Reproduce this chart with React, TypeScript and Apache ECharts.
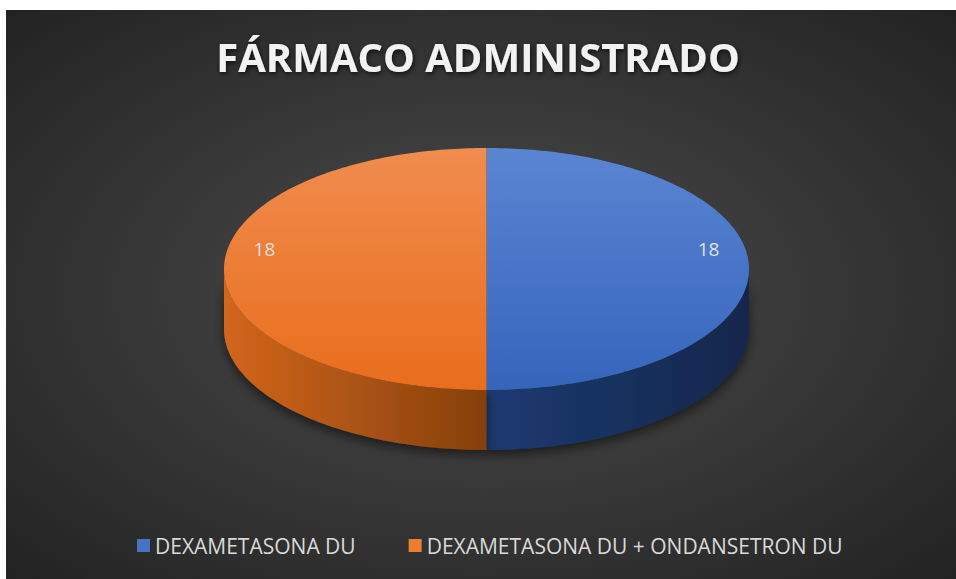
import React, { useEffect, useRef } from 'react';
import * as echarts from 'echarts';

const titleText = 'FÁRMACO ADMINISTRADO';
const categories = ['DEXAMETASONA DU', 'DEXAMETASONA DU + ONDANSETRON DU'];
const values = [18, 18];
const colors = ['#4472C4', '#ED7D31'];
const topColors = [['#5a85d3', '#3564bb'], ['#f08c4e', '#e96d1c']];
const sideColors = [['#1c3a70', '#13274c'], ['#d2661b', '#85400d']];

const CX = 486.5, CY = 269, RX = 262.5, RY = 121, DEPTH = 60;

export default function App() {
  const ref = useRef<HTMLDivElement>(null);
  useEffect(() => {
    const chart = echarts.init(ref.current!, null, { renderer: 'svg' });
    const total = values.reduce((a, b) => a + b, 0);
    const starts: number[] = [];
    let acc = 0;
    values.forEach((v) => { starts.push(acc); acc += v; });

    const pt = (deg: number, dy = 0) => {
      const r = (deg * Math.PI) / 180;
      return [CX + RX * Math.cos(r), CY + RY * Math.sin(r) + dy];
    };
    const arc = (d0: number, d1: number, dy = 0) => {
      const pts: number[][] = [];
      const n = Math.max(2, Math.ceil((d1 - d0) / 1));
      for (let i = 0; i <= n; i++) pts.push(pt(d0 + ((d1 - d0) * i) / n, dy));
      return pts;
    };

    const makeRender = (idx: number) => (params: any, api: any) => {
      const val = api.value(0);
      const a0 = -90 + (360 * starts[idx]) / total;
      const a1 = a0 + (360 * val) / total;
      const children: any[] = [];
      const s0 = Math.max(a0, 0), s1 = Math.min(a1, 180);
      if (s1 > s0) {
        const topEdge = arc(s0, s1);
        const botEdge = arc(s0, s1, DEPTH).reverse();
        const pts = topEdge.concat(botEdge);
        children.push({
          type: 'polygon',
          z2: 1,
          shape: { points: pts },
          style: {
            fill: new echarts.graphic.LinearGradient(0, 0, 1, 0, [
              { offset: 0, color: sideColors[idx][0] },
              { offset: 1, color: sideColors[idx][1] },
            ]),
            shadowBlur: 12,
            shadowColor: 'rgba(0,0,0,0.55)',
            shadowOffsetY: 5,
          },
        });
      }
      const face = [[CX, CY]].concat(arc(a0, a1));
      children.push({
        type: 'polygon',
        z2: 10,
        shape: { points: face },
        style: {
          fill: new echarts.graphic.LinearGradient(0, 0, 0, 1, [
            { offset: 0, color: topColors[idx][0] },
            { offset: 1, color: topColors[idx][1] },
          ]),
        },
      });
      const mid = (((a0 + a1) / 2) * Math.PI) / 180;
      children.push({
        type: 'text',
        z2: 20,
        x: CX + RX * 0.846 * Math.cos(mid),
        y: CY + RY * 0.846 * Math.sin(mid) - 20,
        style: {
          text: String(val),
          fill: '#e0e0e0',
          fontSize: 19,
          fontFamily: 'Open Sans',
          align: 'center',
          verticalAlign: 'middle',
        },
      });
      return { type: 'group', children };
    };

    chart.setOption({
      animation: false,
      title: {
        text: titleText,
        left: 'center',
        top: 31,
        textStyle: {
          color: '#f2f2f2',
          fontSize: 40,
          fontWeight: 'bold',
          fontFamily: 'Open Sans',
          textShadowColor: 'rgba(0,0,0,0.7)',
          textShadowBlur: 5,
          textShadowOffsetX: 1,
          textShadowOffsetY: 2,
        },
      },
      legend: {
        data: categories,
        bottom: 18,
        left: 132,
        icon: 'rect',
        itemWidth: 13,
        itemHeight: 13,
        itemGap: 53,
        textStyle: { color: '#d9d9d9', fontSize: 21, fontFamily: 'Open Sans' },
      },
      graphic: [
        {
          type: 'rect',
          z: 0,
          silent: true,
          shape: { x: 6, y: 10, width: 950, height: 569 },
          style: {
            fill: new echarts.graphic.RadialGradient(0.5, 0.5, 0.7, [
              { offset: 0, color: '#4c4c4c' },
              { offset: 1, color: '#232323' },
            ]),
          },
        },
      ],
      series: categories.map((name, idx) => ({
        type: 'custom',
        name,
        coordinateSystem: 'none',
        itemStyle: { color: colors[idx] },
        data: [values[idx]],
        renderItem: makeRender(idx),
      })),
    });
    return () => chart.dispose();
  }, []);
  return (
    <div
      ref={ref}
      style={{ position: 'fixed', left: 0, top: 0, width: 956, height: 579, background: '#ffffff' }}
    />
  );
}
